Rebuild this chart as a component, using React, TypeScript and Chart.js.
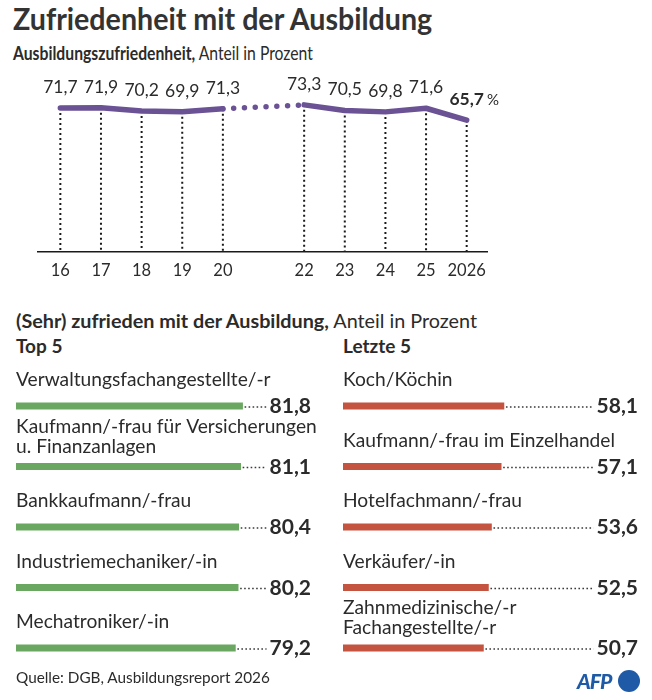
import React, { useEffect, useLayoutEffect, useRef } from "react";
import { Chart, registerables } from "chart.js";
Chart.register(...registerables);

const FONT = "Lato, 'Noto Sans', sans-serif";
const TEXT = "#2b2b2b";
const PURPLE = "#6a5295";
const GREEN = "#6aa760";
const RED = "#c4533f";

// ---- data ----
const years = [2016, 2017, 2018, 2019, 2020, 2022, 2023, 2024, 2025, 2026];
const yearLabels = ["16", "17", "18", "19", "20", "22", "23", "24", "25", "2026"];
const satisfaction = [71.7, 71.9, 70.2, 69.9, 71.3, 73.3, 70.5, 69.8, 71.6, 65.7];

const topLabels: string[][] = [
  ["Verwaltungsfachangestellte/-r"],
  ["Kaufmann/-frau für Versicherungen", "u. Finanzanlagen"],
  ["Bankkaufmann/-frau"],
  ["Industriemechaniker/-in"],
  ["Mechatroniker/-in"],
];
const topValues = [81.8, 81.1, 80.4, 80.2, 79.2];

const bottomLabels: string[][] = [
  ["Koch/Köchin"],
  ["Kaufmann/-frau im Einzelhandel"],
  ["Hotelfachmann/-frau"],
  ["Verkäufer/-in"],
  ["Zahnmedizinische/-r", "Fachangestellte/-r"],
];
const bottomValues = [58.1, 57.1, 53.6, 52.5, 50.7];

const fmt = (v: number) => v.toFixed(1).replace(".", ",");

function LineChart() {
  const ref = useRef<HTMLCanvasElement>(null);
  useEffect(() => {
    const dropLines = {
      id: "dropLines",
      beforeDatasetsDraw(chart: any) {
        const ctx = chart.ctx;
        const meta = chart.getDatasetMeta(0);
        const bottom = chart.chartArea.bottom;
        ctx.save();
        ctx.strokeStyle = "#1a1a1a";
        ctx.lineWidth = 2;
        ctx.setLineDash([2, 3]);
        meta.data.forEach((p: any) => {
          ctx.beginPath();
          ctx.moveTo(p.x, p.y);
          ctx.lineTo(p.x, bottom);
          ctx.stroke();
        });
        ctx.restore();
      },
      afterDatasetsDraw(chart: any) {
        const ctx = chart.ctx;
        const meta = chart.getDatasetMeta(0);
        ctx.save();
        ctx.fillStyle = TEXT;
        ctx.textBaseline = "alphabetic";
        meta.data.forEach((p: any, i: number) => {
          const last = i === meta.data.length - 1;
          const txt = fmt(satisfaction[i]);
          ctx.font = `${last ? "bold " : ""}17.5px ${FONT}`;
          ctx.textAlign = "center";
          ctx.fillText(txt, p.x, p.y - 15);
          if (last) {
            const w = ctx.measureText(txt).width;
            ctx.font = `15px ${FONT}`;
            ctx.textAlign = "left";
            ctx.fillText("%", p.x + w / 2 + 3, p.y - 15);
          }
        });
        ctx.restore();
      },
    };
    const chart = new Chart(ref.current!, {
      type: "line",
      data: {
        datasets: [
          {
            data: years.map((x, i) => ({ x, y: satisfaction[i] })),
            borderColor: PURPLE,
            borderWidth: 5.5,
            borderCapStyle: "round",
            borderJoinStyle: "round",
            pointRadius: 0,
            tension: 0,
            segment: {
              borderDash: (c: any) => (c.p1.parsed.x - c.p0.parsed.x > 1 ? [0, 10.8] : undefined),
            },
          } as any,
        ],
      },
      options: {
        animation: false,
        responsive: false,
        layout: { padding: { top: 31.4, left: 38, right: 165, bottom: 0 } },
        scales: {
          x: {
            type: "linear",
            min: 2015.45,
            max: 2026.5,
            grid: { display: false, drawTicks: false },
            border: { display: true, color: "#1a1a1a", width: 1.5 },
            afterBuildTicks: (s: any) => {
              s.ticks = years.map((v) => ({ value: v }));
            },
            afterFit: (s: any) => {
              s.height = 40;
            },
            ticks: {
              autoSkip: false,
              maxRotation: 0,
              padding: 9,
              color: TEXT,
              font: { family: FONT, size: 16.5 },
              callback: (_v: any, i: number) => yearLabels[i],
            },
          },
          y: { display: false, min: 0, max: 80 },
        },
        plugins: { legend: { display: false }, tooltip: { enabled: false } },
      },
      plugins: [dropLines],
    });
    return () => chart.destroy();
  }, []);
  return (
    <canvas
      ref={ref}
      width={652}
      height={232}
      style={{ position: "absolute", left: 0, top: 60, width: 652, height: 232 }}
    />
  );
}

function BarChart(props: { labels: string[][]; values: number[]; color: string; left: number; padLeft: number; padRight: number }) {
  const ref = useRef<HTMLCanvasElement>(null);
  useEffect(() => {
    const { labels, values, color } = props;
    const deco = {
      id: "deco",
      afterDatasetsDraw(chart: any) {
        const ctx = chart.ctx;
        const meta = chart.getDatasetMeta(0);
        const right = chart.chartArea.right + 18;
        ctx.save();
        meta.data.forEach((b: any, i: number) => {
          const lines = labels[i];
          ctx.fillStyle = TEXT;
          ctx.textAlign = "left";
          ctx.textBaseline = "alphabetic";
          ctx.font = `19.2px ${FONT}`;
          const lastOff = lines.length > 1 ? 14 : 20;
          lines.forEach((ln, j) => {
            const off = lastOff + (lines.length - 1 - j) * 20;
            ctx.fillText(ln, b.base, b.y - off);
          });
          ctx.font = `bold 21px ${FONT}`;
          ctx.textAlign = "right";
          const txt = fmt(values[i]);
          ctx.fillText(txt, right, b.y + 7);
          const w = ctx.measureText(txt).width;
          ctx.strokeStyle = "#3a3a3a";
          ctx.lineWidth = 1.6;
          ctx.setLineDash([1.6, 2.4]);
          ctx.beginPath();
          ctx.moveTo(b.x + 2, b.y + 1);
          ctx.lineTo(right - w - 3, b.y + 1);
          ctx.stroke();
        });
        ctx.restore();
      },
    };
    const chart = new Chart(ref.current!, {
      type: "bar",
      data: {
        labels: labels.map((l) => l.join(" ")),
        datasets: [{ data: values, backgroundColor: color, barThickness: 6.5, borderWidth: 0 }],
      },
      options: {
        indexAxis: "y",
        animation: false,
        responsive: false,
        layout: { padding: { top: 15.75, bottom: 11.75, left: props.padLeft, right: props.padRight } },
        scales: {
          x: { display: false, min: 0, max: 100 },
          y: { display: false },
        },
        plugins: { legend: { display: false }, tooltip: { enabled: false } },
      },
      plugins: [deco],
    });
    return () => chart.destroy();
  }, []);
  return (
    <canvas
      ref={ref}
      width={326}
      height={330}
      style={{ position: "absolute", left: props.left, top: 360, width: 326, height: 330 }}
    />
  );
}

// places text so that its alphabetic baseline lands at `baseline` (Lato metrics);
// optionally squeezes/stretches it horizontally to a given width
function Txt(props: { x: number; baseline: number; size: number; fit?: number; children: any; style?: any }) {
  const ref = useRef<HTMLDivElement>(null);
  useLayoutEffect(() => {
    const apply = () => {
      const el = ref.current;
      if (!el || !props.fit) return;
      el.style.transform = "none";
      const w = el.offsetWidth;
      if (w > 0) el.style.transform = `scaleX(${props.fit / w})`;
    };
    apply();
    if ((document as any).fonts) (document as any).fonts.ready.then(apply);
  }, []);
  const top = props.baseline - 0.887 * props.size;
  return (
    <div
      ref={ref}
      style={{
        position: "absolute",
        left: props.x,
        top,
        fontSize: props.size,
        lineHeight: `${props.size}px`,
        whiteSpace: "nowrap",
        color: TEXT,
        fontFamily: FONT,
        transformOrigin: "left center",
        ...props.style,
      }}
    >
      {props.children}
    </div>
  );
}

export default function App() {
  useEffect(() => {
    document.body.style.margin = "0";
    document.body.style.background = "#fff";
  }, []);
  return (
    <div style={{ position: "relative", width: 652, height: 700, background: "#fff", overflow: "hidden", fontFamily: FONT }}>
      <Txt x={13} baseline={30} size={29.5} fit={419} style={{ fontWeight: 700, color: "#333" }}>
        Zufriedenheit mit der Ausbildung
      </Txt>
      <Txt x={13} baseline={60} size={18.5} fit={300}>
        <b>Ausbildungszufriedenheit,</b> Anteil in Prozent
      </Txt>
      <LineChart />
      <Txt x={16} baseline={328} size={19} fit={461}>
        <b>(Sehr) zufrieden mit der Ausbildung,</b> Anteil in Prozent
      </Txt>
      <Txt x={16} baseline={353} size={19} style={{ fontWeight: 700 }}>
        Top 5
      </Txt>
      <Txt x={343} baseline={353} size={19} style={{ fontWeight: 700 }}>
        Letzte 5
      </Txt>
      <BarChart labels={topLabels} values={topValues} color={GREEN} left={0} padLeft={16} padRight={33} />
      <BarChart labels={bottomLabels} values={bottomValues} color={RED} left={326} padLeft={17} padRight={32} />
      <Txt x={16} baseline={683} size={15} fit={254}>
        Quelle: DGB, Ausbildungsreport 2026
      </Txt>
      <Txt x={577} baseline={689} size={21} style={{ fontWeight: 900, fontStyle: "italic", color: "#1f5aa6", letterSpacing: -1 }}>
        AFP
      </Txt>
      <div
        style={{
          position: "absolute",
          left: 617.5,
          top: 669.5,
          width: 22,
          height: 22,
          borderRadius: "50%",
          background: "#1f5aa6",
        }}
      />
    </div>
  );
}
